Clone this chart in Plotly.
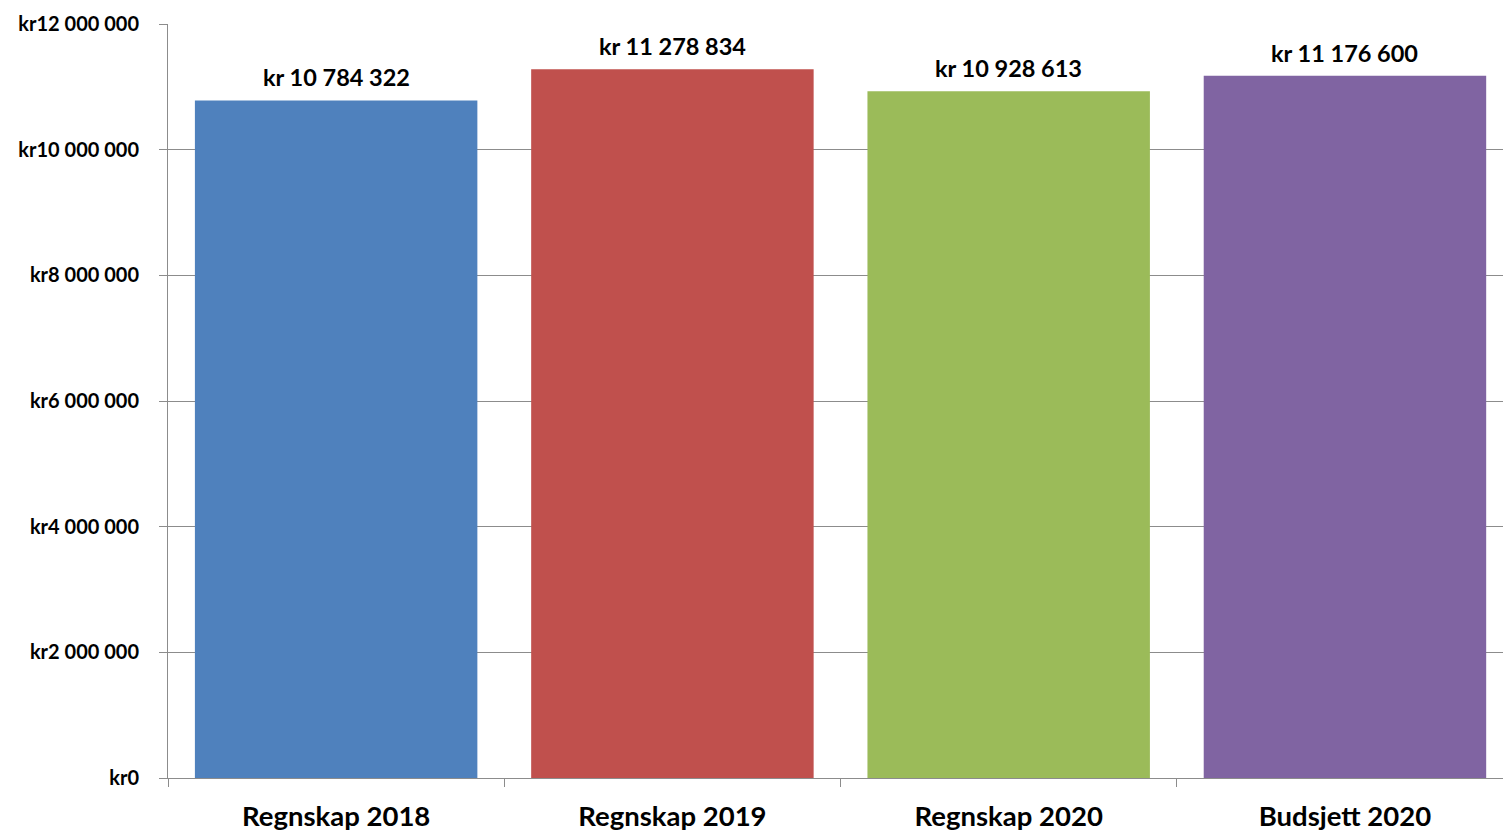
import plotly.graph_objects as go

categories = ["Regnskap 2018", "Regnskap 2019", "Regnskap 2020", "Budsjett 2020"]
values = [10784322, 11278834, 10928613, 11176600]
colors = ["#4F81BD", "#C0504D", "#9BBB59", "#8064A2"]
y_ticks = [0, 2000000, 4000000, 6000000, 8000000, 10000000, 12000000]
y_tick_text = ["kr" + f"{v:,d}".replace(",", " ") for v in y_ticks]
value_labels = ["kr " + f"{v:,d}".replace(",", " ") for v in values]

fig = go.Figure(go.Bar(
    x=categories, y=values,
    marker=dict(color=colors, line=dict(width=0)),
))

for c, v, t in zip(categories, values, value_labels):
    fig.add_annotation(
        x=c, y=v, text=t, showarrow=False,
        yanchor="bottom", yshift=7,
        font=dict(family="Lato", size=23.5, color="#000000", weight="bold"),
    )

fig.update_layout(
    width=1503, height=832,
    margin=dict(l=168, r=0, t=24, b=54),
    paper_bgcolor="white", plot_bgcolor="white",
    bargap=0.16,
    showlegend=False,
    font=dict(family="Lato", color="#000000"),
)
fig.update_xaxes(
    range=[-0.5, 3.47],
    showline=True, linecolor="#8c8c8c", linewidth=1,
    ticks="outside", tickson="boundaries", ticklen=8, tickcolor="#8c8c8c",
    ticklabelstandoff=14,
    tickfont=dict(family="Lato", size=27.5, color="#000000", weight="bold"),
    showgrid=False,
)
fig.update_yaxes(
    range=[0, 12000000],
    tickvals=y_ticks, ticktext=y_tick_text,
    showline=True, linecolor="#8c8c8c", linewidth=1,
    ticks="outside", ticklen=8, tickcolor="#8c8c8c",
    ticklabelstandoff=16,
    showgrid=True, gridcolor="#8c8c8c", gridwidth=1,
    tickfont=dict(family="Lato", size=20, color="#000000", weight="bold"),
    zeroline=False,
)

fig.write_html(
    "out.html",
    config={"displayModeBar": False},
    post_script="document.body.style.margin='0';document.body.style.overflow='hidden';",
)
